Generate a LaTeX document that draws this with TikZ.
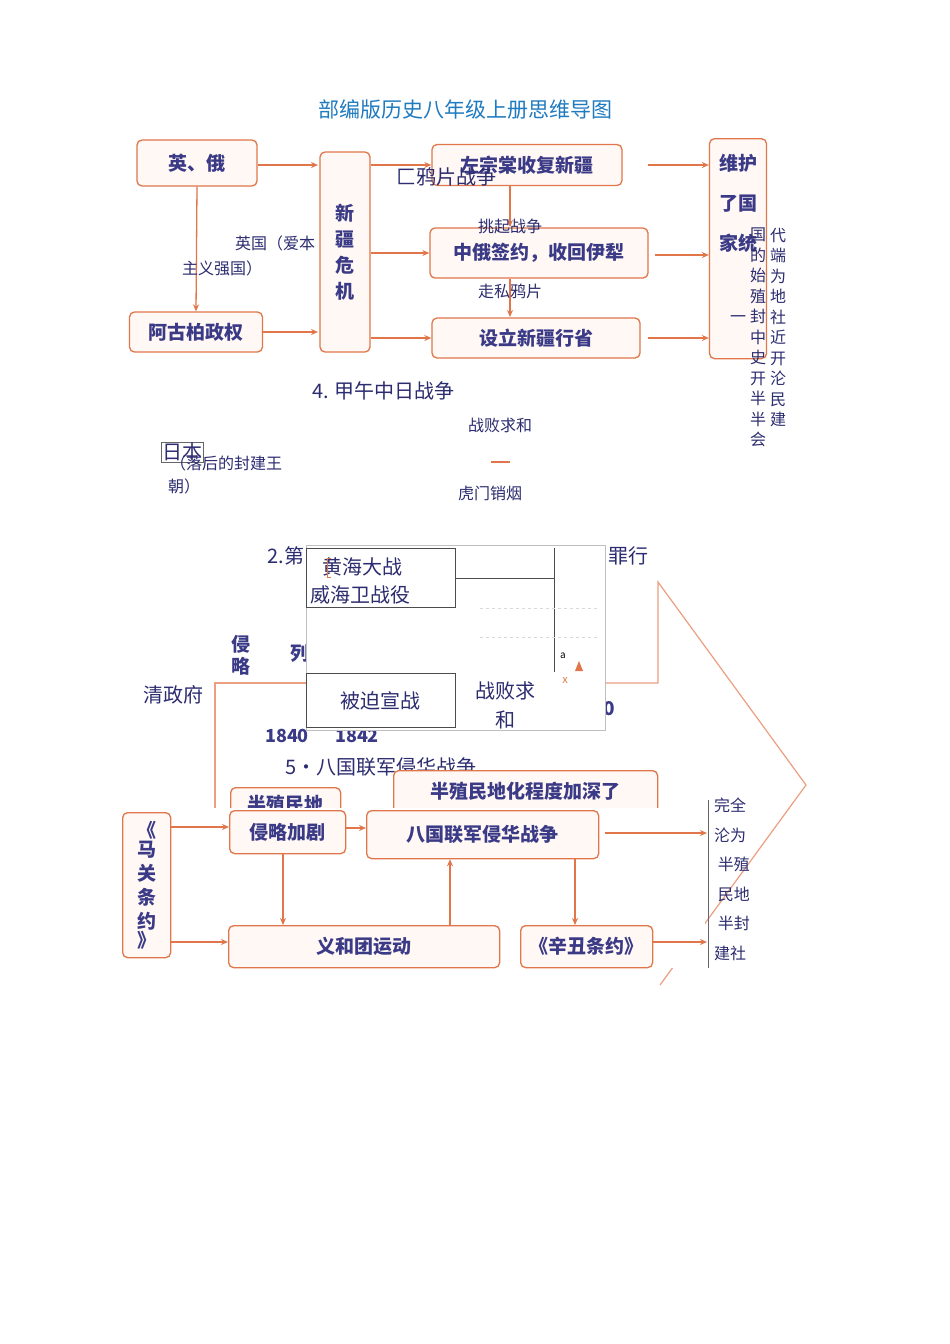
\documentclass[tikz,border=0pt]{standalone}
\usepackage{fontspec}
\setmainfont{Noto Sans CJK SC}
\newfontfamily\cjkser{Noto Sans CJK SC}[BoldFont={* Bold}]
\usetikzlibrary{arrows.meta}
\definecolor{oc}{HTML}{E0764A}
\definecolor{bx}{HTML}{FFF8F4}
\definecolor{tb}{HTML}{3A3A86}
\definecolor{ov}{HTML}{2C2C70}
\definecolor{ttl}{HTML}{1F7BC0}
\begin{document}
\begin{tikzpicture}[x=1pt,y=-1pt,
 ob/.style={draw=oc,line width=1.3pt,rounded corners=5pt,fill=bx,text=tb,font=\bfseries\fontsize{19}{22}\selectfont,inner sep=0pt},
 ar/.style={draw=oc,line width=1.3pt,-{Stealth[length=7pt,width=6pt]}},
 ot/.style={text=ov,font=\fontsize{16}{19}\selectfont,inner sep=0pt},
 big/.style={text=ov,font=\fontsize{20}{23}\selectfont,inner sep=0pt},
 gb/.style={draw=black!70,line width=0.6pt,fill=white}]
\useasboundingbox (0,0) rectangle (950,1344);
\fill[white] (0,0) rectangle (950,1344);
\node[text=ttl,font=\fontsize{21}{24}\selectfont] (title) at (465,110) {部编版历史八年级上册思维导图};
% top section
\node[ob,minimum width=120pt,minimum height=46pt] (yinge) at (197,163) {英、俄};
\node[ob,minimum width=133pt,minimum height=40pt] (agb) at (196,332) {阿古柏政权};
\node[ob,minimum width=50pt,minimum height=200pt,align=center] (xj) at (345,252) {新\\[4pt]疆\\[4pt]危\\[4pt]机};
\node[ob,minimum width=190pt,minimum height=41pt] (zzt) at (527,165) {左宗棠收复新疆};
\node[ob,minimum width=218pt,minimum height=50pt] (zes) at (539,253) {中俄签约，收回伊犁};
\node[ob,minimum width=208pt,minimum height=40pt] (sl) at (536,338) {设立新疆行省};
\node[ob,minimum width=57pt,minimum height=220pt,align=center,anchor=north] (wh) at (738,138) {维护\\[18pt]了国\\[18pt]家统\\[70pt]};
\coordinate (a1) at (318,165); \coordinate (a2) at (318,332);
\draw[ar] (yinge.east|-a1) -- (a1);
\draw[ar] (agb.east|-a2) -- (a2);
\draw[ar] (yinge.south) -- (agb.north);
\draw[ar] (xj.east|-zzt) -- (zzt.west);
\draw[ar] (xj.east|-zes) -- (zes.west);
\draw[ar] (xj.east|-sl) -- (sl.west);
\draw[ar] (510,186) -- (510,227);
\draw[ar] (510,279) -- (510,317);
\coordinate (r1) at (648,165); \coordinate (r2) at (655,255); \coordinate (r3) at (648,338);
\draw[ar] (r1) -- (wh.west|-r1);
\draw[ar] (r2) -- (wh.west|-r2);
\draw[ar] (r3) -- (wh.west|-r3);
\node[big,anchor=west] (yp) at (396,177) {匚鸦片战争};
\node[ot] (tq) at (510,226) {挑起战争};
\node[ot] (yg) at (275,243) {英国（爱本};
\node[ot] (zy) at (222,268) {主义强国）};
\node[ot] (zs) at (510,291) {走私鸦片};
\node[ot,align=center,font=\fontsize{16}{20.5}\selectfont,anchor=north] (c1) at (758,228) {国\\的\\始\\殖\\封\\中\\史\\开\\半\\半\\会};
\node[ot,align=center,font=\fontsize{16}{20.5}\selectfont,anchor=north] (c2) at (778,228) {代\\端\\为\\地\\社\\近\\开\\沦\\民\\建};
\node[ot] (yi) at (738,319) {一};
\node[big,anchor=west] (jw) at (312,391) {\textit{4.} 甲午中日战争};
\node[ot] (zb) at (500,425) {战败求和};
\draw[oc,line width=1.5pt] (491,462) -- (510,462);
\node[ot] (hm) at (490,493) {虎门销烟};
\node[big,draw=black!60,line width=0.5pt,inner sep=1pt] (rb) at (182,452) {日本};
\node[ot,anchor=west] (lh) at (170,463) {（落后的封建王};
\node[ot] (ch) at (184,486) {朝）};
% middle big arrow
\draw[oc!70,line width=1.2pt] (215,808) -- (215,683) -- (306,683);
\draw[oc!70,line width=1.2pt] (605,683) -- (658,683) -- (658,582) -- (806,785) -- (660,985);
\node[text=tb,font=\bfseries\fontsize{19}{22}\selectfont,align=center] (ql) at (241,655) {侵\\略};
\node[text=tb,font=\bfseries\fontsize{19}{22}\selectfont] (lie) at (300,653) {列};
\node[big] (qzf) at (173,695) {清政府};
\node[text=tb,font=\bfseries\fontsize{19}{22}\selectfont] (zero) at (609,709) {0};
\node[text=tb,font=\bfseries\fontsize{18}{22}\selectfont] (y1) at (287,736) {1840};
\node[text=tb,font=\bfseries\fontsize{18}{22}\selectfont] (y2) at (357,736) {1842};
\node[big] (d2) at (286,556) {2.第};
\node[big] (zx) at (628,556) {罪行};
\draw[black!25,fill=white,line width=0.6pt] (306,545) rectangle (605,730);
\node[gb,minimum width=149pt,minimum height=59pt,anchor=north west,inner sep=0pt] (hh) at (306,548) {};
\node[big,anchor=west] (hh1) at (322,567) {黄海大战};
\node[big,anchor=west] (hh2) at (310,595) {威海卫战役};
\draw[oc,line width=0.8pt] (331,558) -- (327,558) -- (327,577) -- (331,577);
\coordinate (vl) at (554,578);
\draw[black!70,line width=0.6pt] (hh.east|-vl) -- (vl);
\draw[black!70,line width=0.6pt] (554,548) -- (554,672);
\draw[black!15,dashed] (480,608) -- (598,608);
\draw[black!15,dashed] (480,637) -- (598,637);
\node[font=\fontsize{10}{12}\selectfont] (aa) at (563,656) {a};
\fill[oc] (575,671) -- (583,671) -- (579,661) -- cycle;
\node[text=oc,font=\fontsize{11}{12}\selectfont] (xx) at (565,681) {x};
\node[gb,minimum width=149pt,minimum height=54pt,anchor=north west,inner sep=0pt] (bp) at (306,673) {};
\node[big] (bp1) at (380,701) {被迫宣战};
\node[big] (zbq) at (505,691) {战败求};
\node[big] (he) at (505,720) {和};
\node[big,anchor=west] (bg) at (285,767) {5•八国联军侵华战争};
\node[ob,minimum width=264pt,minimum height=42pt,anchor=north west] (bz) at (393,770) {半殖民地化程度加深了};
\node[ob,minimum width=110pt,minimum height=34pt,anchor=north west] (bzm) at (230,787) {半殖民地};
\fill[white] (120,808) rectangle (705,968);
% lower section
\node[ob,minimum width=48pt,minimum height=145pt,align=center,anchor=north west] (mg) at (122,812) {《\\[-3pt]马\\[2pt]关\\[2pt]条\\[2pt]约\\[-3pt]》};
\node[ob,minimum width=116pt,minimum height=43pt,anchor=north west] (qlj) at (229,810) {侵略加剧};
\node[ob,minimum width=232pt,minimum height=48pt,anchor=north west] (bgl) at (366,810) {八国联军侵华战争};
\node[ob,minimum width=271pt,minimum height=42pt,anchor=north west] (yht) at (228,925) {义和团运动};
\node[ob,minimum width=132pt,minimum height=42pt,anchor=north west] (xc) at (520,925) {《辛丑条约》};
\coordinate (p1) at (170,827); \coordinate (p2) at (170,942);
\draw[ar] (p1) -- (qlj.west|-p1);
\draw[ar] (p2) -- (yht.west|-p2);
\coordinate (p3) at (345,828);
\draw[ar] (p3) -- (bgl.west|-p3);
\coordinate (p4) at (283,853);
\draw[ar] (p4) -- (p4|-yht.north);
\coordinate (p5) at (450,925);
\draw[ar] (p5) -- (p5|-bgl.south);
\coordinate (p6) at (575,858);
\draw[ar] (p6) -- (p6|-xc.north);
\coordinate (p7) at (605,833); \coordinate (p7e) at (707,833);
\draw[ar] (p7) -- (p7e);
\coordinate (p8e) at (707,942);
\draw[ar] (xc.east|-p8e) -- (p8e);
\draw[black!60,line width=0.6pt] (708,800) -- (708,968);
\node[ot,align=left,anchor=north west,font=\fontsize{16}{29.5}\selectfont] (wq) at (714,798) {完全\\沦为\\\ 半殖\\\ 民地\\\ 半封\\建社};
\end{tikzpicture}
\end{document}
